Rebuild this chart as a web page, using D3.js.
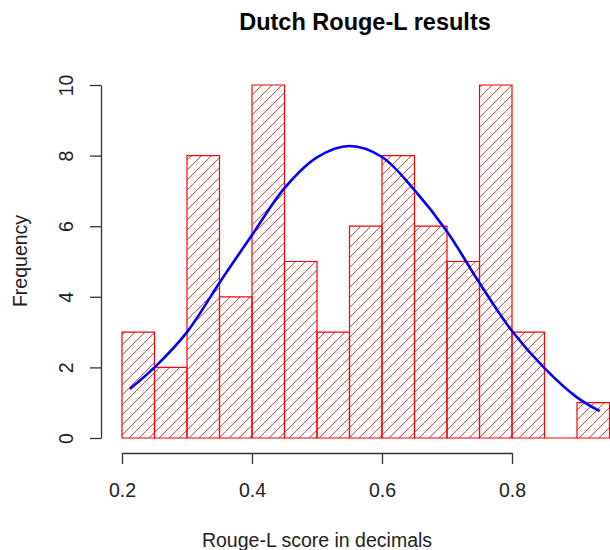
<!DOCTYPE html>
<html>
<head>
<meta charset="utf-8">
<script src="https://cdn.jsdelivr.net/npm/d3@7"></script>
<style>
  body { margin: 0; background: #fff; }
  svg { display: block; font-family: "Liberation Sans", Arial, sans-serif; }
</style>
</head>
<body>
<div id="chart"></div>
<script>
// histogram bins (lower edge) and counts
var binStarts = [0.20, 0.25, 0.30, 0.35, 0.40, 0.45, 0.50, 0.55, 0.60, 0.65, 0.70, 0.75, 0.80, 0.85, 0.90];
var binWidth = 0.05;
var counts = [3, 2, 8, 4, 10, 5, 3, 6, 8, 6, 5, 10, 3, 0, 1];

// blue curve
var curveX = [0.212, 0.25, 0.30, 0.35, 0.40, 0.45, 0.50, 0.55, 0.60, 0.65, 0.70, 0.75, 0.80, 0.85, 0.90, 0.935];
var curveY = [1.39, 2.0, 3.0, 4.4, 5.75, 7.08, 7.95, 8.27, 7.96, 7.02, 5.85, 4.39, 3.03, 1.98, 1.15, 0.76];

var xTicks = [0.2, 0.4, 0.6, 0.8];
var yTicks = [0, 2, 4, 6, 8, 10];

var w = 610, h = 550;

var svg = d3.select("#chart").append("svg")
  .attr("width", w)
  .attr("height", h);

var xscale = d3.scaleLinear().domain([0.2, 0.8]).range([122, 512]);
var yscale = d3.scaleLinear().domain([0, 10]).range([438, 85]);

function barPath(d, i) {
  var x0 = xscale(binStarts[i]), x1 = xscale(binStarts[i] + binWidth);
  var y0 = yscale(0), y1 = yscale(d);
  return "M" + x0 + "," + y0 + "L" + x0 + "," + y1 + "L" + x1 + "," + y1 + "L" + x1 + "," + y0 + "Z";
}

// clip for the hatching = union of the bars
var defs = svg.append("defs");
defs.append("clipPath").attr("id", "barclip")
  .selectAll("path")
  .data(counts)
  .enter()
  .append("path")
  .attr("d", barPath);

// hatch lines ("/" at 45 degrees, 10px apart)
var hx0 = xscale(binStarts[0]), hx1 = xscale(binStarts[binStarts.length - 1] + binWidth);
var hy0 = yscale(10), hy1 = yscale(0);
var offsets = d3.range(hx0 + hy0, hx1 + hy1 + 10, 10);

svg.append("g")
  .attr("clip-path", "url(#barclip)")
  .selectAll("line")
  .data(offsets)
  .enter()
  .append("line")
  .attr("x1", function(c) { return c - hy1; })
  .attr("y1", hy1)
  .attr("x2", function(c) { return c - hy0; })
  .attr("y2", hy0)
  .attr("stroke", "#ff3b3b")
  .attr("stroke-width", 1);

// bar outlines
svg.append("g").attr("id", "bars")
  .selectAll("path")
  .data(counts)
  .enter()
  .append("path")
  .attr("d", barPath)
  .attr("fill", "none")
  .attr("stroke", "#ff0000")
  .attr("stroke-width", 1.2);

// curve
var line = d3.line()
  .x(function(d, i) { return xscale(curveX[i]); })
  .y(function(d) { return yscale(d); })
  .curve(d3.curveCatmullRom);

svg.append("path")
  .datum(curveY)
  .attr("d", line)
  .attr("fill", "none")
  .attr("stroke", "#0000ff")
  .attr("stroke-width", 2.6);

// axes
var xAxis = d3.axisBottom(xscale)
  .tickValues(xTicks)
  .tickSize(11)
  .tickSizeOuter(0)
  .tickPadding(16)
  .tickFormat(d3.format(".1f"));

var gx = svg.append("g")
  .attr("transform", "translate(0,453)")
  .call(xAxis);
gx.select(".domain").attr("stroke", "#333").attr("stroke-width", 1.3);
gx.selectAll(".tick line").attr("stroke", "#333").attr("stroke-width", 1.3);
gx.selectAll(".tick text")
  .attr("font-size", "19.5px")
  .attr("fill", "#222")
  .attr("dy", 0)
  .attr("y", 44);

var yAxis = d3.axisLeft(yscale)
  .tickValues(yTicks)
  .tickSize(11)
  .tickSizeOuter(0);

var gy = svg.append("g")
  .attr("transform", "translate(101,0)")
  .call(yAxis);
gy.select(".domain").attr("stroke", "#333").attr("stroke-width", 1.3);
gy.selectAll(".tick line").attr("stroke", "#333").attr("stroke-width", 1.3);
gy.selectAll(".tick text")
  .attr("font-size", "19.5px")
  .attr("fill", "#222")
  .attr("text-anchor", "middle")
  .attr("x", 0)
  .attr("y", 0)
  .attr("dy", 0)
  .attr("transform", "translate(-28,0) rotate(-90)");

// titles
svg.append("text")
  .attr("x", 365)
  .attr("y", 30)
  .attr("text-anchor", "middle")
  .attr("font-size", "23.5px")
  .attr("font-weight", "bold")
  .attr("fill", "#000")
  .text("Dutch Rouge-L results");

svg.append("text")
  .attr("x", 317)
  .attr("y", 547)
  .attr("text-anchor", "middle")
  .attr("font-size", "19.5px")
  .attr("fill", "#222")
  .text("Rouge-L score in decimals");

svg.append("text")
  .attr("transform", "translate(27,261) rotate(-90)")
  .attr("text-anchor", "middle")
  .attr("font-size", "19.5px")
  .attr("fill", "#222")
  .text("Frequency");
</script>
</body>
</html>
